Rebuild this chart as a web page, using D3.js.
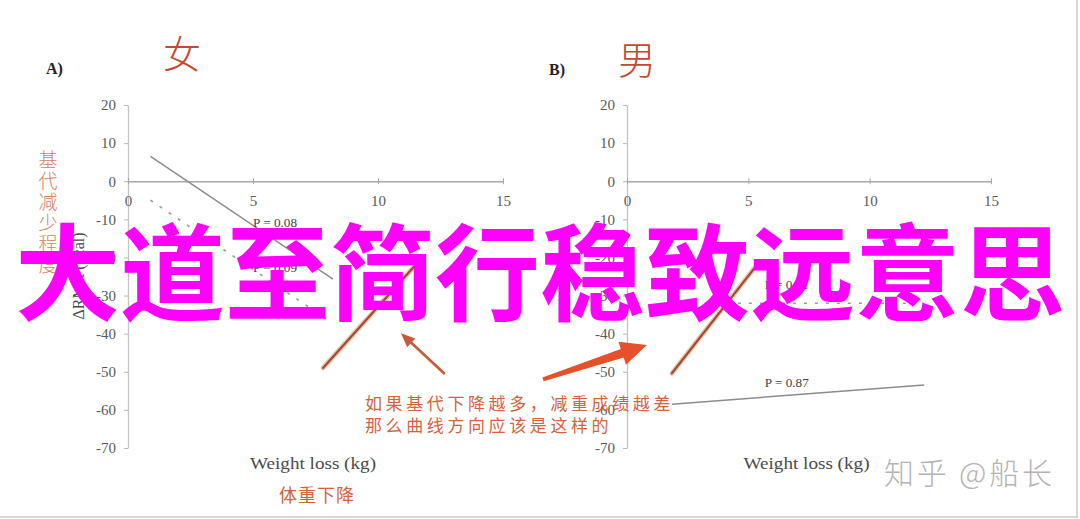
<!DOCTYPE html>
<html>
<head>
<meta charset="utf-8">
<script src="https://cdn.jsdelivr.net/npm/d3@7"></script>
<style>
  body { margin: 0; background: #fff; }
  svg { display: block; }
</style>
</head>
<body>
<div id="chart"></div>
<script>
// axis ticks (both panels)
const xTicks = [0, 5, 10, 15];
const yTicks = [20, 10, 0, -10, -20, -30, -40, -50, -60, -70];

// A) female
const femaleSolidX = [0.9, 8.2];
const femaleSolidY = [6.5, -25.7];
const femaleDashX = [0.9, 8.2];
const femaleDashY = [-5, -37.3];
const femaleWishX = [7.8, 11.5];      // hand drawn "expected" line
const femaleWishY = [-49, -22];
const femaleP = ["P = 0.08", "P = 0.09"];
const femalePX = [5.0, 5.0];
const femalePY = [-10.8, -22.8];
const femaleArrowX = [12.64, 10.92];
const femaleArrowY = [-50.4, -39.9];

// B) male
const maleSolidX = [1.85, 12.25];
const maleSolidY = [-58.5, -53.5];
const maleDashX = [1.85, 11.5];
const maleDashY = [-32, -32];
const maleWishX = [1.85, 5.35];
const maleWishY = [-50.4, -22];
const maleP = ["P = 0.81", "P = 0.87"];
const malePX = [5.68, 5.68];
const malePY = [-27.3, -52.8];
const maleArrowX = [-3.46, 0.82];
const maleArrowY = [-52, -43];

const W = 1080, H = 519;
const serif = "'Liberation Serif', 'DejaVu Serif', serif";
const cjk = "'Noto Sans CJK SC', sans-serif";
const noteColor = "#d4623e";

const svg = d3.select("#chart")
  .append("svg")
  .attr("width", W)
  .attr("height", H)
  .attr("viewBox", `0 0 ${W} ${H}`);

svg.append("rect").attr("width", W).attr("height", H).attr("fill", "#fff");

// light frame on the right and bottom edge
svg.append("line").attr("x1", 1077).attr("x2", 1077).attr("y1", 0).attr("y2", 518)
  .attr("stroke", "#d6d6d6").attr("stroke-width", 2);
svg.append("line").attr("x1", 0).attr("x2", 1078).attr("y1", 517).attr("y2", 517)
  .attr("stroke", "#d6d6d6").attr("stroke-width", 2);

const yScale = d3.scaleLinear().domain([-70, 20]).range([448, 105]);
const xLeft = d3.scaleLinear().domain([0, 15]).range([128, 503]);
const xRight = d3.scaleLinear().domain([0, 15]).range([627, 991]);

const pair = (xs, ys) => xs.map((x, i) => [x, ys[i]]);

const drawPanel = (xScale, d) => {
  const g = svg.append("g");

  // y axis
  const yAxis = g.append("g")
    .attr("transform", `translate(${xScale(0)},0)`)
    .call(d3.axisLeft(yScale).tickValues(yTicks).tickSize(4).tickSizeOuter(0).tickPadding(8)
      .tickFormat(v => String(v)));
  yAxis.select(".domain").attr("stroke", "#c4c4c4").attr("stroke-width", 1.3);
  yAxis.selectAll(".tick line").attr("stroke", "#b8b8b8");
  yAxis.selectAll("text")
    .style("font-family", serif).style("font-size", "15px").attr("fill", "#5a5a5a");

  // x axis sits at y = 0, labels below
  const xAxis = g.append("g")
    .attr("transform", `translate(0,${yScale(0)})`)
    .call(d3.axisBottom(xScale).tickValues(xTicks).tickSize(3).tickSizeOuter(0).tickPadding(11)
      .tickFormat(v => String(v)));
  xAxis.select(".domain").attr("stroke", "#a8a8a8").attr("stroke-width", 1.6);
  xAxis.selectAll(".tick line").attr("stroke", "#a8a8a8").attr("y1", -3);
  xAxis.selectAll("text")
    .style("font-family", serif).style("font-size", "15px").attr("fill", "#5a5a5a");

  const line = d3.line().x(p => xScale(p[0])).y(p => yScale(p[1]));

  g.append("path").datum(pair(d.solidX, d.solidY))
    .attr("d", line).attr("fill", "none")
    .attr("stroke", "#8c8c8c").attr("stroke-width", 1.5);
  g.append("path").datum(pair(d.dashX, d.dashY))
    .attr("d", line).attr("fill", "none")
    .attr("stroke", "#9a9a9a").attr("stroke-width", 1.6)
    .attr("stroke-dasharray", "3,8");

  g.selectAll(".plab")
    .data(d.p)
    .join("text")
    .attr("x", (t, i) => xScale(d.pX[i]))
    .attr("y", (t, i) => yScale(d.pY[i]))
    .attr("dy", "0.35em")
    .attr("textLength", 44)
    .attr("lengthAdjust", "spacingAndGlyphs")
    .text(t => t)
    .style("font-family", serif).style("font-size", "12px").attr("fill", "#444");

  // hand drawn brown line
  const wish = pair(d.wishX, d.wishY);
  g.append("path").datum(wish).attr("d", line).attr("fill", "none")
    .attr("stroke", "#efc6b4").attr("stroke-width", 5).attr("stroke-linecap", "round");
  g.append("path").datum(wish).attr("d", line).attr("fill", "none")
    .attr("stroke", "#9e4e30").attr("stroke-width", 2.2).attr("stroke-linecap", "round");

  g.append("text")
    .attr("x", (xScale(0) + xScale(15)) / 2 - 127 / 2 - 2)
    .attr("y", 463)
    .attr("dy", "0.35em")
    .attr("textLength", 126)
    .attr("lengthAdjust", "spacingAndGlyphs")
    .text("Weight loss (kg)")
    .style("font-family", serif).style("font-size", "17px").attr("fill", "#4a4a4a");

  return g;
};

const gA = drawPanel(xLeft, {
  solidX: femaleSolidX, solidY: femaleSolidY,
  dashX: femaleDashX, dashY: femaleDashY,
  wishX: femaleWishX, wishY: femaleWishY,
  p: femaleP, pX: femalePX, pY: femalePY
});
const gB = drawPanel(xRight, {
  solidX: maleSolidX, solidY: maleSolidY,
  dashX: maleDashX, dashY: maleDashY,
  wishX: maleWishX, wishY: maleWishY,
  p: maleP, pX: malePX, pY: malePY
});

// rotated y title (left panel)
svg.append("text")
  .attr("transform", `translate(84,276) rotate(-90)`)
  .attr("text-anchor", "middle")
  .text("ΔRMR (kcal)")
  .style("font-family", serif).style("font-size", "16px").attr("fill", "#4a4a4a");

// panel letters and headings
svg.append("text").attr("x", 46).attr("y", 74).text("A)")
  .style("font-family", serif).style("font-size", "16px").style("font-weight", "bold").attr("fill", "#222");
svg.append("text").attr("x", 549).attr("y", 75).text("B)")
  .style("font-family", serif).style("font-size", "16px").style("font-weight", "bold").attr("fill", "#222");
svg.append("text").attr("x", 182).attr("y", 54).attr("dy", "0.38em").attr("text-anchor", "middle").text("女")
  .style("font-family", cjk).style("font-size", "38px").style("font-weight", "300").attr("fill", "#c44a30");
svg.append("text").attr("x", 637).attr("y", 60).attr("dy", "0.38em").attr("text-anchor", "middle").text("男")
  .style("font-family", cjk).style("font-size", "38px").style("font-weight", "300").attr("fill", "#c04a32");

// vertical chinese y label
svg.append("text")
  .attr("x", 48)
  .attr("y", 150)
  .style("writing-mode", "vertical-rl")
  .style("letter-spacing", "2px")
  .text("基代减少程度")
  .style("font-family", cjk).style("font-size", "19px").style("font-weight", "300").attr("fill", "#d9805e");

// notes
const noteLines = ["如果基代下降越多，减重成绩越差", "那么曲线方向应该是这样的"];
svg.selectAll(".note")
  .data(noteLines)
  .join("text")
  .attr("x", 365)
  .attr("y", (t, i) => 404 + i * 22)
  .attr("dy", "0.38em")
  .text(t => t)
  .style("font-family", cjk).style("font-size", "17px").style("letter-spacing", "3.6px")
  .attr("fill", noteColor);

svg.append("text").attr("x", 317).attr("y", 495).attr("dy", "0.38em").attr("text-anchor", "middle")
  .text("体重下降")
  .style("font-family", cjk).style("font-size", "18px").style("letter-spacing", "1px").attr("fill", noteColor);

// thin arrow (left)
{
  const x0 = xLeft(femaleArrowX[0]), y0 = yScale(femaleArrowY[0]);
  const x1 = xLeft(femaleArrowX[1]), y1 = yScale(femaleArrowY[1]);
  const a = Math.atan2(y1 - y0, x1 - x0);
  const hl = 14, hw = 6;
  const bx = x1 - hl * Math.cos(a), by = y1 - hl * Math.sin(a);
  svg.append("line").attr("x1", x0).attr("y1", y0).attr("x2", bx).attr("y2", by)
    .attr("stroke", "#c85a3a").attr("stroke-width", 2.6).attr("stroke-linecap", "round");
  svg.append("polygon")
    .attr("points", [
      [x1, y1],
      [bx + hw * Math.sin(a), by - hw * Math.cos(a)],
      [bx - hw * Math.sin(a), by + hw * Math.cos(a)]
    ].map(p => p.join(",")).join(" "))
    .attr("fill", "#c85a3a");
}

// thick arrow (right)
{
  const x0 = xRight(maleArrowX[0]), y0 = yScale(maleArrowY[0]);
  const x1 = xRight(maleArrowX[1]), y1 = yScale(maleArrowY[1]);
  const a = Math.atan2(y1 - y0, x1 - x0);
  const nx = Math.sin(a), ny = -Math.cos(a);
  const hl = 26, hw = 12, w0 = 2, w1 = 4.5;
  const bx = x1 - hl * Math.cos(a), by = y1 - hl * Math.sin(a);
  const pts = [
    [x0 + nx * w0, y0 + ny * w0],
    [bx + nx * w1, by + ny * w1],
    [bx + nx * hw, by + ny * hw],
    [x1, y1],
    [bx - nx * hw, by - ny * hw],
    [bx - nx * w1, by - ny * w1],
    [x0 - nx * w0, y0 - ny * w0]
  ];
  svg.append("polygon")
    .attr("points", pts.map(p => p.join(",")).join(" "))
    .attr("fill", "#e6502a");
}

// watermark
svg.append("text").attr("x", 884).attr("y", 473).attr("dy", "0.38em")
  .attr("textLength", 168)
  .attr("lengthAdjust", "spacing")
  .text("知乎 @船长")
  .style("font-family", cjk).style("font-size", "30px").style("font-weight", "300").attr("fill", "#b4b4b4");

// big magenta overlay
svg.append("text").attr("x", 540).attr("y", 312).attr("text-anchor", "middle")
  .text("大道至简行稳致远意思")
  .style("font-family", cjk).style("font-size", "105px").style("font-weight", "bold").attr("fill", "#ff00ff");
</script>
</body>
</html>
